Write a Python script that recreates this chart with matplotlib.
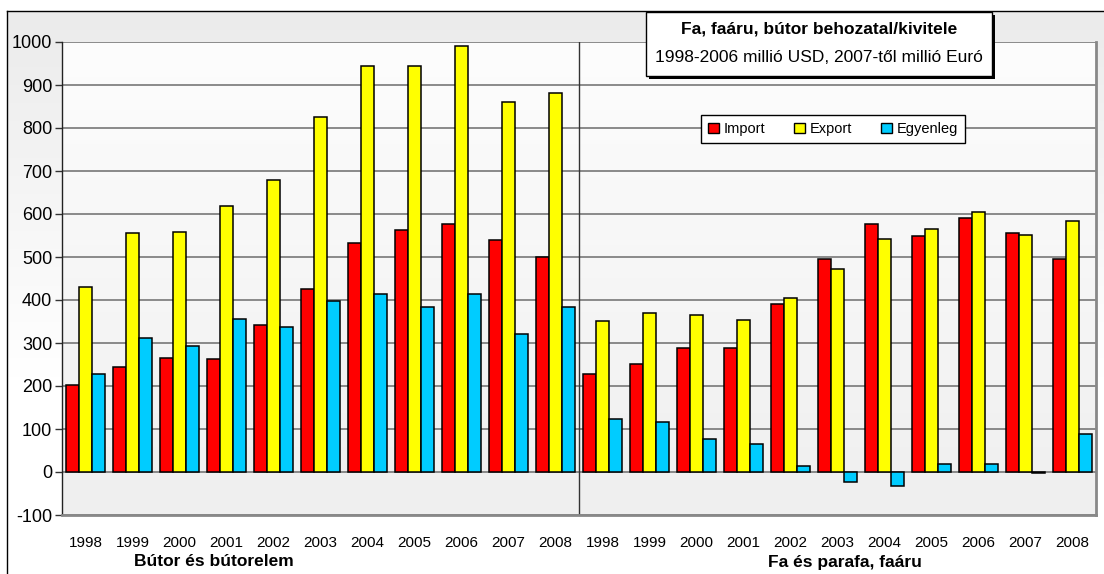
import numpy as np
import matplotlib
matplotlib.use("Agg")
import matplotlib.pyplot as plt
from matplotlib.patches import Rectangle
from matplotlib.colors import LinearSegmentedColormap

plt.rcParams['font.family'] = ['Liberation Sans', 'DejaVu Sans']
plt.rcParams['axes.unicode_minus'] = False

YEARS = ['1998', '1999', '2000', '2001', '2002', '2003', '2004', '2005', '2006', '2007', '2008']
GROUPS = ['Bútor és bútorelem', 'Fa és parafa, faáru']
SERIES = ['Import', 'Export', 'Egyenleg']

# Bútor és bútorelem
IMPORT_BUTOR = [203, 245, 265, 262, 341, 425, 532, 562, 576, 540, 500]
EXPORT_BUTOR = [430, 555, 558, 618, 680, 825, 945, 945, 990, 860, 882]
EGYENLEG_BUTOR = [228, 312, 293, 355, 337, 397, 415, 383, 414, 322, 383]

# Fa és parafa, faáru
IMPORT_FA = [229, 252, 288, 288, 390, 496, 576, 549, 590, 555, 496]
EXPORT_FA = [352, 370, 365, 354, 404, 472, 542, 565, 604, 552, 583]
EGYENLEG_FA = [123, 117, 77, 66, 15, -23, -33, 18, 18, -3, 88]

TITLE1 = "Fa, faáru, bútor behozatal/kivitele"
TITLE2 = "1998-2006 millió USD, 2007-től millió Euró"

W, H = 1104, 574
fig = plt.figure(figsize=(W / 100, H / 100), dpi=100)

# background of the whole chart (grey at top fading to white)
bg = fig.add_axes([0, 0, 1, 1])
bg.set_zorder(-1)
bg.axis('off')
cm_bg = LinearSegmentedColormap.from_list('bg', [(0, '#ebebeb'), (0.65, '#ffffff'), (1, '#ffffff')])
bg.imshow(np.linspace(0, 1, 256).reshape(-1, 1), cmap=cm_bg, extent=[7, W, H, 11], aspect='auto')
bg.plot([7, 7], [H, 11], color='black', lw=1)
bg.plot([7, W], [11, 11], color='black', lw=1)
bg.set_xlim(0, W)
bg.set_ylim(H, 0)

ax = fig.add_axes([62 / W, (H - 515) / H, 1034 / W, 473 / H])
cm_plot = LinearSegmentedColormap.from_list('pl', ['#fdfdfd', '#efefef'])
ax.imshow(np.linspace(0, 1, 256).reshape(-1, 1), cmap=cm_plot, extent=[0, 1, 0, 1],
          transform=ax.transAxes, aspect='auto', zorder=-1)

imp = IMPORT_BUTOR + IMPORT_FA
exp = EXPORT_BUTOR + EXPORT_FA
egy = EGYENLEG_BUTOR + EGYENLEG_FA
x = np.arange(len(imp))
w = 0.277

ax.bar(x - w, imp, w, color='#ff0000', edgecolor='black', lw=1.1, zorder=3, label=SERIES[0])
ax.bar(x, exp, w, color='#ffff00', edgecolor='black', lw=1.1, zorder=3, label=SERIES[1])
ax.bar(x + w, egy, w, color='#00ccff', edgecolor='black', lw=1.1, zorder=3, label=SERIES[2])

ax.set_xlim(-0.5, len(imp) - 0.5)
ax.set_ylim(-100, 1000)
ax.set_yticks(range(-100, 1001, 100))
ax.yaxis.grid(True, color='#777777', lw=1.2)
ax.set_axisbelow(True)
ax.axvline(len(YEARS) - 0.5, color='#333333', lw=1, zorder=2)

ax.set_xticks(x)
ax.set_xticklabels(YEARS + YEARS)
ax.tick_params(axis='x', length=0, labelsize=11, pad=15)
ax.tick_params(axis='y', direction='out', length=5, width=1, color='#333333', labelsize=13, pad=2)

ax.spines['top'].set_visible(False)
ax.spines['left'].set_color('#222222')
ax.spines['left'].set_linewidth(1)
for s in ['bottom', 'right']:
    ax.spines[s].set_color('#888888')
    ax.spines[s].set_linewidth(2)

handles = [Rectangle((0, 0), 1, 1, facecolor=c, edgecolor='black', lw=1)
           for c in ['#ff0000', '#ffff00', '#00ccff']]
leg = ax.legend(handles, SERIES, loc='center', bbox_to_anchor=(833 / W, 1 - 129 / H),
                bbox_transform=fig.transFigure, ncol=3, fontsize=10.5, frameon=True,
                fancybox=False, edgecolor='black', framealpha=1, handlelength=0.75,
                handleheight=0.75, columnspacing=2.0, handletextpad=0.3, borderpad=0.5)
leg.get_frame().set_linewidth(1)

fig.text(214 / W, 1 - 562 / H, GROUPS[0], ha='center', va='center', fontsize=12.5, fontweight='bold')
fig.text(845 / W, 1 - 562 / H, GROUPS[1], ha='center', va='center', fontsize=12.5, fontweight='bold')

# title box on top
top = fig.add_axes([0, 0, 1, 1])
top.set_zorder(5)
top.patch.set_visible(False)
top.axis('off')
top.add_patch(Rectangle((649, 15), 346, 64, facecolor='black', edgecolor='none'))
top.add_patch(Rectangle((646, 12), 346, 64, facecolor='white', edgecolor='black', lw=1))
top.text(819, 29, TITLE1, ha='center', va='center', fontsize=12.5, fontweight='bold')
top.text(819, 57, TITLE2, ha='center', va='center', fontsize=12.5)
top.set_xlim(0, W)
top.set_ylim(H, 0)

fig.savefig('out.png', dpi=100)
